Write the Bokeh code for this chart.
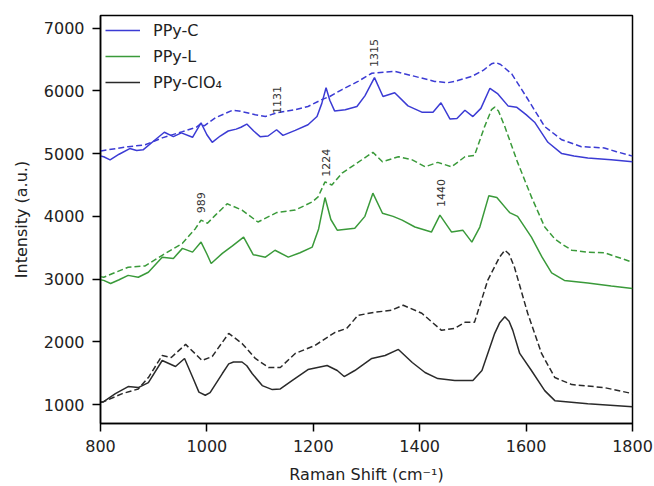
import math
from bokeh.plotting import figure
from bokeh.models import Range1d, FixedTicker, ColumnDataSource
from bokeh.core.properties import value
from bokeh.embed import file_html
from bokeh.resources import INLINE

FONT = "DejaVu Sans"

# ---- data ----
c_solid_x = [800, 806, 818, 835, 855, 868, 880, 900, 920, 937, 952, 973, 989, 1000, 1010, 1025, 1040, 1055, 1064, 1075, 1088, 1100, 1115, 1131, 1143, 1166, 1190, 1207, 1216, 1224, 1231, 1240, 1260, 1282, 1297, 1315, 1331, 1353, 1378, 1404, 1425, 1440, 1457, 1470, 1485, 1500, 1515, 1532, 1547, 1566, 1582, 1600, 1616, 1641, 1667, 1690, 1716, 1760, 1800]
c_solid_y = [4960, 4950, 4900, 4990, 5080, 5050, 5060, 5200, 5340, 5270, 5330, 5260, 5490, 5300, 5180, 5280, 5360, 5390, 5420, 5470, 5360, 5270, 5280, 5380, 5290, 5370, 5460, 5590, 5800, 6050, 5850, 5680, 5700, 5750, 5920, 6210, 5910, 5970, 5760, 5660, 5660, 5810, 5550, 5560, 5690, 5590, 5720, 6040, 5950, 5760, 5740, 5620, 5500, 5180, 5000, 4960, 4930, 4900, 4870]

c_dash_x = [800, 806, 852, 884, 916, 954, 980, 989, 995, 1016, 1048, 1060, 1091, 1110, 1131, 1166, 1190, 1216, 1231, 1254, 1284, 1310, 1353, 1391, 1428, 1453, 1466, 1498, 1520, 1535, 1543, 1552, 1573, 1603, 1635, 1667, 1704, 1747, 1770, 1800]
c_dash_y = [5040, 5050, 5110, 5140, 5250, 5350, 5420, 5480, 5440, 5570, 5690, 5680, 5620, 5590, 5650, 5700, 5750, 5860, 5910, 6020, 6150, 6280, 6310, 6230, 6150, 6130, 6150, 6230, 6330, 6430, 6450, 6420, 6270, 5870, 5430, 5220, 5110, 5090, 5030, 4960]

l_solid_x = [800, 806, 819, 835, 852, 871, 890, 916, 937, 954, 973, 989, 1000, 1008, 1029, 1048, 1069, 1087, 1110, 1128, 1153, 1175, 1198, 1210, 1222, 1233, 1245, 1278, 1297, 1312, 1330, 1350, 1367, 1391, 1422, 1438, 1460, 1481, 1498, 1513, 1530, 1545, 1569, 1584, 1610, 1630, 1648, 1672, 1716, 1760, 1800]
l_solid_y = [2990, 2980, 2930, 2990, 3060, 3030, 3110, 3350, 3330, 3490, 3430, 3590, 3400, 3250, 3410, 3530, 3670, 3390, 3350, 3460, 3350, 3420, 3510, 3800, 4300, 3950, 3780, 3810, 4000, 4370, 4050, 4000, 3940, 3830, 3750, 4020, 3750, 3780, 3590, 3830, 4330, 4300, 4060, 4000, 3670, 3350, 3100, 2980, 2940, 2890, 2850]

l_dash_x = [800, 806, 852, 884, 916, 954, 978, 989, 1001, 1016, 1038, 1066, 1096, 1131, 1166, 1198, 1209, 1222, 1235, 1254, 1284, 1312, 1330, 1360, 1386, 1410, 1434, 1460, 1485, 1503, 1522, 1535, 1541, 1548, 1560, 1584, 1610, 1635, 1654, 1667, 1686, 1716, 1747, 1800]
l_dash_y = [3040, 3030, 3190, 3210, 3380, 3570, 3800, 3940, 3890, 4020, 4200, 4100, 3910, 4060, 4100, 4230, 4310, 4550, 4500, 4690, 4860, 5020, 4870, 4950, 4900, 4790, 4860, 4790, 4950, 4970, 5430, 5700, 5740, 5680, 5430, 4860, 4310, 3830, 3640, 3560, 3460, 3430, 3420, 3270]

k_solid_x = [800, 806, 828, 852, 871, 890, 916, 941, 958, 975, 985, 997, 1006, 1029, 1041, 1050, 1066, 1075, 1085, 1104, 1123, 1138, 1160, 1190, 1226, 1245, 1258, 1278, 1310, 1335, 1360, 1386, 1410, 1434, 1466, 1500, 1517, 1541, 1550, 1560, 1568, 1575, 1588, 1610, 1635, 1654, 1716, 1800]
k_solid_y = [1040, 1048, 1176, 1288, 1272, 1352, 1704, 1608, 1736, 1400, 1200, 1150, 1192, 1496, 1650, 1680, 1680, 1620, 1496, 1304, 1240, 1250, 1384, 1560, 1624, 1544, 1448, 1544, 1736, 1784, 1880, 1672, 1512, 1416, 1384, 1384, 1544, 2136, 2300, 2400, 2330, 2184, 1816, 1544, 1224, 1064, 1016, 968]

k_dash_x = [800, 806, 841, 871, 890, 916, 933, 960, 991, 1010, 1041, 1066, 1091, 1116, 1138, 1166, 1203, 1241, 1263, 1284, 1316, 1347, 1369, 1404, 1441, 1466, 1485, 1503, 1528, 1550, 1560, 1568, 1578, 1603, 1629, 1654, 1686, 1747, 1800]
k_dash_y = [1040, 1048, 1176, 1250, 1432, 1784, 1752, 1960, 1704, 1768, 2136, 1976, 1736, 1592, 1592, 1816, 1944, 2152, 2216, 2424, 2472, 2504, 2584, 2456, 2184, 2216, 2312, 2312, 2984, 3350, 3460, 3400, 3192, 2456, 1816, 1432, 1320, 1272, 1176]

peak_labels = ["989", "1131", "1224", "1315", "1440"]
peak_x = [989, 1131, 1224, 1315, 1440]
peak_y = [4050, 5630, 4630, 6380, 4150]

series_names = ["PPy-C", "PPy-L", "PPy-ClO\u2084"]
x_ticks = [800, 1000, 1200, 1400, 1600, 1800]
y_ticks = [1000, 2000, 3000, 4000, 5000, 6000, 7000]

BLUE = "#3b3bd4"
GREEN = "#3a9a3a"
BLACK = "#2a2a2a"

p = figure(width=654, height=486, output_backend="svg", toolbar_location=None,
           x_range=Range1d(800, 1800), y_range=Range1d(700, 7200),
           min_border_left=100, min_border_right=22, min_border_top=15, min_border_bottom=63)
p.background_fill_color = "white"
p.border_fill_color = "white"
p.grid.visible = False
p.outline_line_color = "black"
p.outline_line_width = 1.5

for ax in (p.xaxis[0], p.yaxis[0]):
    ax.axis_line_color = "black"
    ax.axis_line_width = 1.5
    ax.major_tick_line_color = "black"
    ax.major_tick_line_width = 1.5
    ax.major_tick_out = 8
    ax.major_tick_in = 0
    ax.minor_tick_out = 0
    ax.minor_tick_in = 0
    ax.major_label_text_font = FONT
    ax.major_label_text_font_size = "16px"
    ax.major_label_text_color = "#222222"
    ax.axis_label_text_font = FONT
    ax.axis_label_text_font_size = "16px"
    ax.axis_label_text_font_style = "normal"
    ax.axis_label_text_color = "#222222"
    ax.major_label_standoff = 8
    ax.axis_label_standoff = 10

p.xaxis[0].ticker = FixedTicker(ticks=x_ticks)
p.yaxis[0].ticker = FixedTicker(ticks=y_ticks)
p.xaxis[0].axis_label = "Raman Shift (cm\u207b\u00b9)"
p.yaxis[0].axis_label = "Intensity (a.u.)"

LW = 1.5
DASH = "6 3"
p.line(c_solid_x, c_solid_y, line_color=BLUE, line_width=LW, legend_label=series_names[0])
p.line(c_dash_x, c_dash_y, line_color=BLUE, line_width=LW, line_dash=DASH)
p.line(l_solid_x, l_solid_y, line_color=GREEN, line_width=LW, legend_label=series_names[1])
p.line(l_dash_x, l_dash_y, line_color=GREEN, line_width=LW, line_dash=DASH)
p.line(k_solid_x, k_solid_y, line_color=BLACK, line_width=LW, legend_label=series_names[2])
p.line(k_dash_x, k_dash_y, line_color=BLACK, line_width=LW, line_dash=DASH)

src = ColumnDataSource(dict(x=peak_x, y=peak_y, t=peak_labels))
p.text(x="x", y="y", text="t", source=src, angle=math.pi / 2,
       text_font=value(FONT), text_font_size="11px", text_color="#333333",
       text_align="left", text_baseline="middle")

lg = p.legend[0]
lg.location = "top_left"
lg.border_line_color = None
lg.background_fill_alpha = 0
lg.margin = 5
lg.padding = 10
lg.glyph_width = 35
lg.glyph_height = 20
lg.label_height = 20
lg.spacing = 6
lg.label_standoff = 13
lg.label_text_font = FONT
lg.label_text_font_size = "16px"
lg.label_text_color = "#222222"

open("out.html", "w").write(file_html(p, INLINE))
